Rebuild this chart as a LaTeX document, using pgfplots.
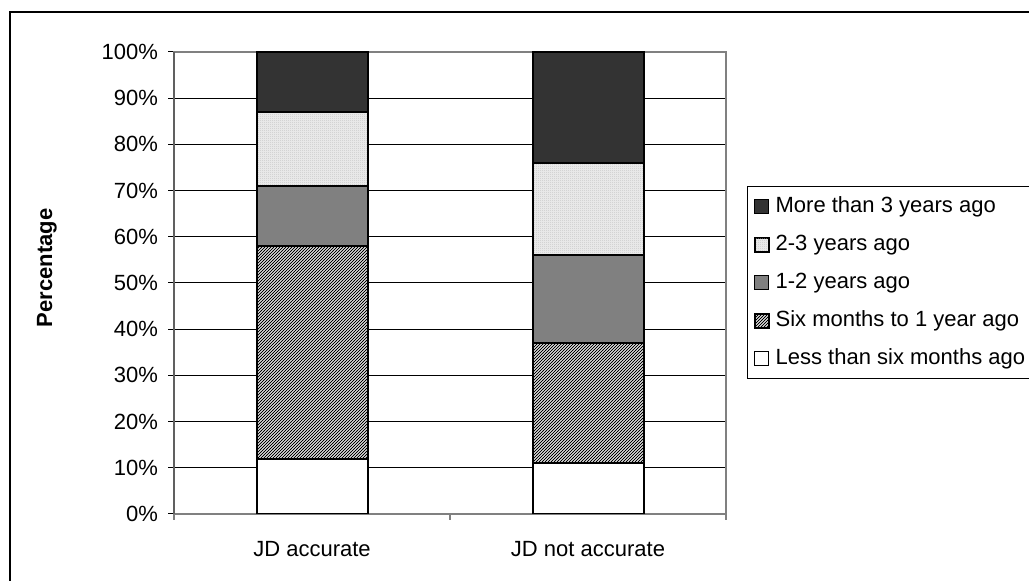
\documentclass[border=0pt]{standalone}
\usepackage{fontspec}
\setmainfont{Liberation Sans}
\usepackage{pgfplots}
\pgfplotsset{compat=1.18}
\usetikzlibrary{patterns}

% fine diagonal hatching
\pgfdeclarepatternformonly{fine hatch}{\pgfqpoint{-0.5pt}{-0.5pt}}{\pgfqpoint{2pt}{2pt}}{\pgfqpoint{1.5pt}{1.5pt}}{%
  \pgfsetlinewidth{0.45pt}%
  \pgfpathmoveto{\pgfqpoint{0pt}{0pt}}%
  \pgfpathlineto{\pgfqpoint{1.55pt}{1.55pt}}%
  \pgfusepath{stroke}}
% fine dot grid
\pgfdeclarepatternformonly{fine dots}{\pgfqpoint{0pt}{0pt}}{\pgfqpoint{1pt}{1pt}}{\pgfqpoint{1pt}{1pt}}{%
  \pgfpathrectangle{\pgfqpoint{0pt}{0pt}}{\pgfqpoint{0.45pt}{0.45pt}}%
  \pgfusepath{fill}}

\definecolor{darkbar}{HTML}{333333}
\definecolor{midbar}{HTML}{808080}
\definecolor{lightbar}{HTML}{E8E8E8}
\definecolor{dotgray}{HTML}{B8B8B8}
\definecolor{framegray}{HTML}{808080}
\definecolor{axisgray}{HTML}{606060}

\begin{document}
\begin{tikzpicture}[font=\fontsize{11}{13}\selectfont]
\path[use as bounding box] (0pt,0pt) rectangle (514.5pt,290.5pt);
% chart area frame
\draw[line width=0.8pt] (5pt,-3pt) -- (5pt,284.5pt) -- (520pt,284.5pt);
\node[rotate=90,font=\fontsize{11}{13}\selectfont\bfseries] at (23.5pt,156.5pt) {Percentage};
\coordinate (plotorigin) at (87pt,33.5pt);
\begin{axis}[
  at={(plotorigin)}, anchor=south west,
  scale only axis, width=276pt, height=231pt,
  ybar stacked, bar width=55.5pt,
  xmin=-0.5, xmax=1.5, ymin=0, ymax=100,
  xtick={0,1}, xticklabels={JD accurate,JD not accurate},
  minor xtick={-0.5,0.5,1.5},
  ytick={0,10,...,100},
  yticklabel={\pgfmathprintnumber{\tick}\%},
  /pgf/number format/assume math mode=true,
  tick pos=left, tick align=outside,
  major tick length=3pt, minor tick length=3pt,
  major x tick style={draw=none},
  minor x tick style={framegray,line width=1pt},
  ytick style={black,line width=0.5pt},
  xticklabel style={yshift=-7pt},
  yticklabel style={xshift=-1.5pt},
  ymajorgrids, grid style={black,line width=0.5pt},
  axis line style={framegray,line width=1pt},
  legend style={at={(1.038,0.710)}, anchor=north west, draw=black,
    line width=0.6pt, inner sep=3.25pt, row sep=5.5pt,
    nodes={inner sep=2pt, text height=7.5pt, text depth=2pt, anchor=west},
    /tikz/every odd column/.append style={column sep=1.2pt}},
  legend cell align=left, reverse legend,
  legend image code/.code={\draw[#1,line width=0.6pt] (0pt,-3.5pt) rectangle (7pt,3.5pt);},
]
\addplot[fill=white, draw=black, line width=1pt]
  coordinates {(0,12) (1,11)};
\addlegendentry{Less than six months ago}
\addplot[preaction={fill=white}, pattern=fine hatch, pattern color=black, draw=black, line width=1pt]
  coordinates {(0,46) (1,26)};
\addlegendentry{Six months to 1 year ago}
\addplot[fill=midbar, draw=black, line width=1pt]
  coordinates {(0,13) (1,19)};
\addlegendentry{1-2 years ago}
\addplot[preaction={fill=lightbar}, pattern=fine dots, pattern color=dotgray, draw=black, line width=1pt]
  coordinates {(0,16) (1,20)};
\addlegendentry{2-3 years ago}
\addplot[fill=darkbar, draw=black, line width=1pt]
  coordinates {(0,13) (1,24)};
\addlegendentry{More than 3 years ago}
\end{axis}
% darker left axis line
\draw[axisgray,line width=1pt] (plotorigin) -- ++(0pt,231pt);
\end{tikzpicture}
\end{document}
